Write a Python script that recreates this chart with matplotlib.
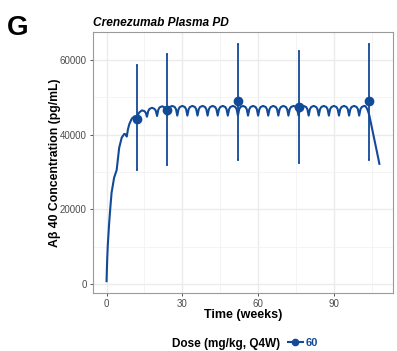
"""Crenezumab plasma PD: simulated Aβ40 profile with observed mean ± range."""

import matplotlib
matplotlib.use("Agg")
import matplotlib.pyplot as plt
from matplotlib.lines import Line2D

plt.rcParams["font.family"] = ["Liberation Sans", "DejaVu Sans"]

BLUE = "#134a98"

# simulated concentration
sim_weeks = [
    0, 0.25, 0.5, 1, 1.5, 2, 3,
    4, 4.5, 5, 6, 7, 7.5,
    8, 8.5, 9, 10, 11, 11.5,
    12, 12.5, 13, 14, 15, 15.5,
    16, 16.5, 17, 18, 19, 19.5,
    20, 20.5, 21, 22, 23, 23.5,
    24, 24.5, 25, 26, 27, 27.5,
    28, 28.5, 29, 30, 31, 31.5,
    32, 32.5, 33, 34, 35, 35.5,
    36, 36.5, 37, 38, 39, 39.5,
    40, 40.5, 41, 42, 43, 43.5,
    44, 44.5, 45, 46, 47, 47.5,
    48, 48.5, 49, 50, 51, 51.5,
    52, 52.5, 53, 54, 55, 55.5,
    56, 56.5, 57, 58, 59, 59.5,
    60, 60.5, 61, 62, 63, 63.5,
    64, 64.5, 65, 66, 67, 67.5,
    68, 68.5, 69, 70, 71, 71.5,
    72, 72.5, 73, 74, 75, 75.5,
    76, 76.5, 77, 78, 79, 79.5,
    80, 80.5, 81, 82, 83, 83.5,
    84, 84.5, 85, 86, 87, 87.5,
    88, 88.5, 89, 90, 91, 91.5,
    92, 92.5, 93, 94, 95, 95.5,
    96, 96.5, 97, 98, 99, 99.5,
    100, 100.5, 101, 102, 102.5, 103, 103.5,
    104, 105, 106, 107, 108,
]
sim_conc = [
    800, 6500, 10500, 16000, 20500, 24500, 28500,
    30500, 33500, 36500, 39200, 40200, 40100,
    39500, 41500, 42800, 44300, 44900, 44700,
    44000, 45400, 46000, 46500, 46300, 45900,
    44800, 46300, 46900, 47200, 46900, 46400,
    45000, 46700, 47300, 47600, 47300, 46700,
    45100, 46800, 47400, 47700, 47400, 46800,
    45100, 46800, 47400, 47700, 47400, 46800,
    45100, 46800, 47400, 47700, 47400, 46800,
    45100, 46800, 47400, 47700, 47400, 46800,
    45100, 46800, 47400, 47700, 47400, 46800,
    45100, 46800, 47400, 47700, 47400, 46800,
    45100, 46800, 47400, 47700, 47400, 46800,
    45100, 46800, 47400, 47700, 47400, 46800,
    45100, 46800, 47400, 47700, 47400, 46800,
    45100, 46800, 47400, 47700, 47400, 46800,
    45100, 46800, 47400, 47700, 47400, 46800,
    45100, 46800, 47400, 47700, 47400, 46800,
    45100, 46800, 47400, 47700, 47400, 46800,
    45100, 46800, 47400, 47700, 47400, 46800,
    45100, 46800, 47400, 47700, 47400, 46800,
    45100, 46800, 47400, 47700, 47400, 46800,
    45100, 46800, 47400, 47700, 47400, 46800,
    45100, 46800, 47400, 47700, 47400, 46800,
    45100, 46800, 47400, 47700, 47400, 46800,
    45100, 46800, 47400, 47700, 47600, 47100, 46300,
    45200, 42000, 38700, 35500, 32200,
]

# observed data
obs_weeks = [12, 24, 52, 76, 104]
obs_mean = [44300, 46700, 49000, 47400, 48900]
obs_lower = [30500, 32000, 33300, 32400, 33300]
obs_upper = [58700, 61700, 64400, 62500, 64400]

dose_label = "60"

fig = plt.figure(figsize=(3.97, 3.51), dpi=100)
ax = fig.add_axes([0.234, 0.165, 0.756, 0.744])

ax.plot(sim_weeks, sim_conc, color=BLUE, lw=1.5, zorder=3)
yerr = [[m - lo for m, lo in zip(obs_mean, obs_lower)],
        [hi - m for m, hi in zip(obs_mean, obs_upper)]]
ax.errorbar(obs_weeks, obs_mean, yerr=yerr, fmt="o", color=BLUE, ms=6,
            elinewidth=1.3, capsize=1, capthick=1.2, zorder=4)

ax.set_xlim(-5.4, 113.4)
ax.set_ylim(-2400, 67500)
ax.set_xticks([0, 30, 60, 90])
ax.set_yticks([0, 20000, 40000, 60000])
ax.set_xticks([15, 45, 75, 105], minor=True)
ax.set_yticks([10000, 30000, 50000], minor=True)
ax.grid(which="major", color="#ebebeb", lw=1.0)
ax.grid(which="minor", color="#f2f2f2", lw=0.6)
ax.set_axisbelow(True)
ax.tick_params(which="major", length=2.5, width=0.7, color="#555555",
               labelsize=7, labelcolor="#4d4d4d", pad=2)
ax.tick_params(which="minor", length=0)
for sp in ax.spines.values():
    sp.set_color("#9a9a9a")
    sp.set_linewidth(0.8)

ax.set_xlabel("Time (weeks)", fontsize=9, fontweight="bold")
ax.xaxis.set_label_coords(0.5, -0.06)
ax.set_ylabel("Aβ 40 Concentration (pg/mL)", fontsize=8.8, fontweight="bold")
ax.yaxis.set_label_coords(-0.105, 0.5)

fig.text(0.234, 0.926, "Crenezumab Plasma PD", fontsize=8.6, fontweight="bold",
         fontstyle="italic", ha="left", va="baseline")
fig.text(0.017, 0.900, "G", fontsize=20, fontweight="bold", ha="left", va="baseline")

fig.text(0.705, 0.02, "Dose (mg/kg, Q4W)", fontsize=8.5, fontweight="bold",
         ha="right", va="center")
handle = Line2D([], [], color=BLUE, lw=1.5, marker="o", ms=4.5)
leg = fig.legend([handle], [dose_label], loc="center left",
                 bbox_to_anchor=(0.726, 0.022), frameon=False, fontsize=8,
                 handlelength=1.3, handletextpad=0.3, borderaxespad=0,
                 borderpad=0)
for t in leg.get_texts():
    t.set_color(BLUE)
    t.set_fontweight("bold")

fig.savefig("out.png", dpi=100)
